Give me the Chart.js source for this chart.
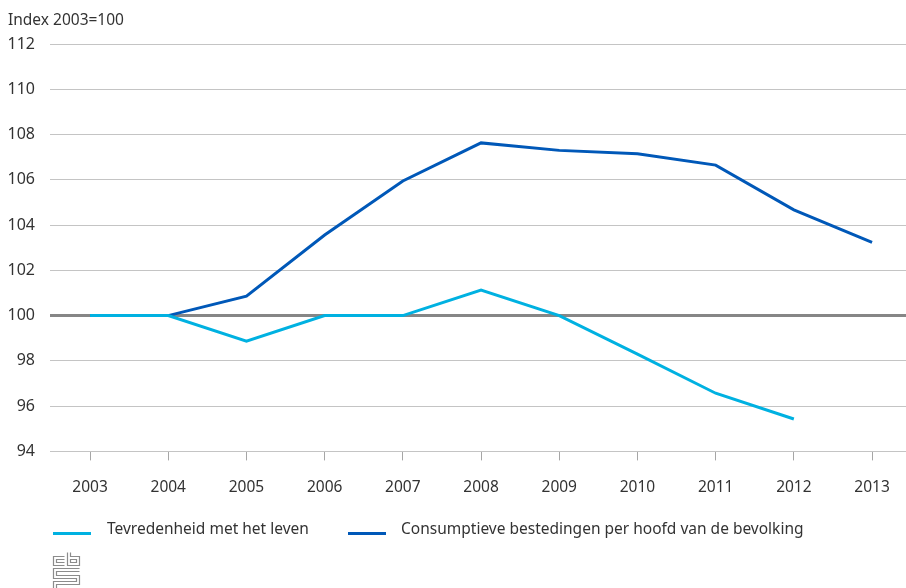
<!DOCTYPE html>
<html>
<head>
<meta charset="utf-8">
<script src="https://cdn.jsdelivr.net/npm/chart.js@4"></script>
<style>
  html, body { margin: 0; padding: 0; background: #ffffff; }
  #wrap { width: 906px; height: 588px; position: relative; }
</style>
</head>
<body>
<div id="wrap"><canvas id="c" width="906" height="588"></canvas></div>
<script>
const years = [2003, 2004, 2005, 2006, 2007, 2008, 2009, 2010, 2011, 2012, 2013];
const tevredenheid = [100, 100, 98.87, 100, 100, 101.13, 100, 98.3, 96.57, 95.43, null];
const consumptie = [100, 100, 100.86, 103.56, 105.95, 107.63, 107.3, 107.15, 106.65, 104.67, 103.24];
const yTicks = [94, 96, 98, 100, 102, 104, 106, 108, 110, 112];
const seriesNames = ['Tevredenheid met het leven', 'Consumptieve bestedingen per hoofd van de bevolking'];
const yTitle = 'Index 2003=100';

const FONT = '"Noto Sans", sans-serif';
const TEXT = '#333333';
const LIGHT = '#00b1e1';
const DARK = '#0058b8';

const overlay = {
  id: 'overlay',
  afterDraw(chart) {
    const ctx = chart.ctx;
    ctx.save();
    ctx.fillStyle = TEXT;
    ctx.font = '15.5px ' + FONT;
    ctx.textBaseline = 'alphabetic';
    ctx.textAlign = 'left';
    ctx.fillText(yTitle, 8, 25);
    const items = [
      { x: 53, tx: 107, color: chart.data.datasets[0].borderColor, label: chart.data.datasets[0].label },
      { x: 348, tx: 401, color: chart.data.datasets[1].borderColor, label: chart.data.datasets[1].label }
    ];
    items.forEach(it => {
      ctx.strokeStyle = it.color;
      ctx.lineWidth = 3;
      ctx.beginPath();
      ctx.moveTo(it.x, 533.5);
      ctx.lineTo(it.x + 38, 533.5);
      ctx.stroke();
      ctx.fillStyle = TEXT;
      ctx.fillText(it.label, it.tx, 534);
    });
    ctx.strokeStyle = '#8c8c8c';
    ctx.lineWidth = 1.2;
    const lx = 53.5, ly = 552.5;
    ctx.beginPath();
    ctx.moveTo(lx + 11, ly + 4); ctx.lineTo(lx, ly + 4); ctx.lineTo(lx, ly + 13); ctx.lineTo(lx + 11, ly + 13);
    ctx.moveTo(lx + 11, ly + 7); ctx.lineTo(lx + 3, ly + 7); ctx.lineTo(lx + 3, ly + 10); ctx.lineTo(lx + 11, ly + 10);
    ctx.moveTo(lx + 14, ly); ctx.lineTo(lx + 14, ly + 13); ctx.lineTo(lx + 26, ly + 13); ctx.lineTo(lx + 26, ly + 4); ctx.lineTo(lx + 17, ly + 4); ctx.lineTo(lx + 17, ly);
    ctx.moveTo(lx + 17, ly + 7); ctx.lineTo(lx + 23, ly + 7); ctx.lineTo(lx + 23, ly + 10); ctx.lineTo(lx + 17, ly + 10); ctx.closePath();
    ctx.moveTo(lx + 26, ly + 16); ctx.lineTo(lx, ly + 16); ctx.lineTo(lx, ly + 26); ctx.lineTo(lx + 23, ly + 26); ctx.lineTo(lx + 23, ly + 29); ctx.lineTo(lx, ly + 29); ctx.lineTo(lx, ly + 36);
    ctx.moveTo(lx + 26, ly + 19); ctx.lineTo(lx + 3, ly + 19); ctx.lineTo(lx + 3, ly + 23); ctx.lineTo(lx + 26, ly + 23); ctx.lineTo(lx + 26, ly + 32); ctx.lineTo(lx + 3, ly + 32); ctx.lineTo(lx + 3, ly + 36);
    ctx.stroke();
    ctx.restore();
  }
};

new Chart(document.getElementById('c'), {
  type: 'line',
  data: {
    datasets: [
      {
        label: seriesNames[0],
        data: years.map((y, i) => ({ x: y, y: tevredenheid[i] })).filter(p => p.y !== null),
        borderColor: LIGHT,
        borderWidth: 3,
        pointRadius: 0,
        tension: 0,
        fill: false
      },
      {
        label: seriesNames[1],
        data: years.map((y, i) => ({ x: y, y: consumptie[i] })),
        borderColor: DARK,
        borderWidth: 3,
        pointRadius: 0,
        tension: 0,
        fill: false
      }
    ]
  },
  options: {
    responsive: false,
    animation: false,
    events: [],
    layout: { padding: { left: 0, right: 0, top: 44, bottom: 73 } },
    plugins: {
      legend: { display: false },
      tooltip: { enabled: false },
      title: { display: false }
    },
    scales: {
      x: {
        type: 'linear',
        min: 2002.488,
        max: 2013.434,
        afterBuildTicks(scale) { scale.ticks = years.map(v => ({ value: v })); },
        afterFit(scale) { scale.paddingLeft = 0; scale.paddingRight = 0; },
        grid: { drawOnChartArea: false, drawTicks: true, tickLength: 9, color: '#a6a6a6', lineWidth: 1 },
        border: { display: false },
        ticks: {
          padding: 18,
          color: TEXT,
          font: { family: FONT, size: 15.5 },
          callback: v => String(v),
          maxRotation: 0,
          autoSkip: false
        }
      },
      y: {
        min: 94,
        max: 112,
        afterBuildTicks(scale) { scale.ticks = yTicks.map(v => ({ value: v })); },
        afterFit(scale) { scale.width = 50; },
        grid: {
          drawTicks: false,
          color: ctx => (ctx.tick && ctx.tick.value === 100) ? '#868686' : '#c4c4c4',
          lineWidth: ctx => (ctx.tick && ctx.tick.value === 100) ? 3 : 1
        },
        border: { display: false },
        ticks: {
          padding: 15,
          color: TEXT,
          font: { family: FONT, size: 16 }
        }
      }
    }
  },
  plugins: [overlay]
});
</script>
</body>
</html>
